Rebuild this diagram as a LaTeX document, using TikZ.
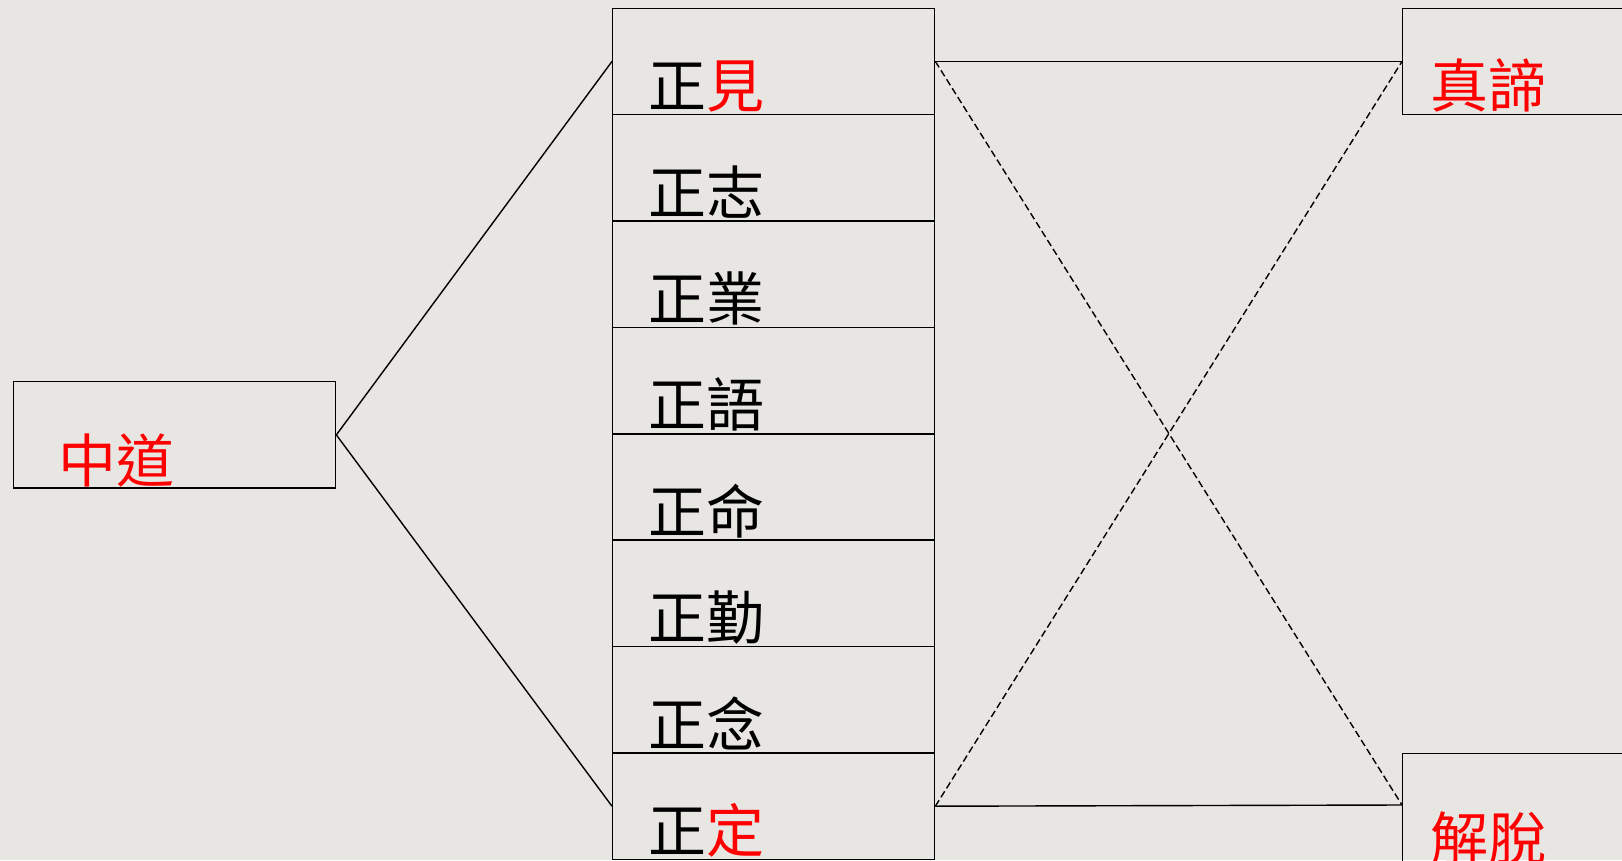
\documentclass[tikz,border=0pt]{standalone}
\usepackage{fontspec}
\newfontfamily\cjk{Noto Sans CJK TC}
\usetikzlibrary{positioning}
\definecolor{paper}{RGB}{232,230,226}
\definecolor{hired}{RGB}{255,0,0}

\begin{document}
\begin{tikzpicture}[x=0.02cm, y=-0.02cm,
    box/.style={draw, line width=0.8pt, minimum width=6.44cm, minimum height=2.128cm, inner sep=0pt, anchor=north west},
    lbl/.style={inner sep=0pt, font=\cjk\fontsize{33}{33}\selectfont},
    link/.style={line width=0.8pt}]
    % page
    \clip (0,0) rectangle (1622,860);
    \fill[paper] (0,0) rectangle (1622,860);

    % middle way
    \node[box] (zd) at (13,381) {};
    \node[lbl, above right=0.12cm and 0.9cm of zd.south west, anchor=base west] (tzd) {\textcolor{hired}{中道}};

    % eightfold path
    \foreach \t [count=\i] in {{正\textcolor{hired}{見}}, 正志, 正業, 正語, 正命, 正勤, 正念, {正\textcolor{hired}{定}}} {
        \node[box] (m\i) at (612,{7.5+(\i-1)*106.4}) {};
        \node[lbl, above right=0.15cm and 0.72cm of m\i.south west, anchor=base west] (t\i) {\t};
    }

    % truth and liberation
    \node[box] (r1) at (1402,7.5) {};
    \node[lbl, above right=0.15cm and 0.56cm of r1.south west, anchor=base west] (tr1) {\textcolor{hired}{真諦}};
    \node[box, minimum height=2.6cm] (r2) at (1402,753) {};
    \coordinate[below=1.04cm of r2.north west] (r2in);
    \node[lbl, below right=1.16cm and 0.56cm of r2.north west, anchor=north west] (tr2) {\textcolor{hired}{解脫}};

    % links
    \draw[link] (zd.east) -- (m1.west);
    \draw[link] (zd.east) -- (m8.west);
    \draw[link] (m1.east) -- (r1.west);
    \draw[link] (m8.east) -- (r2in);
    \draw[link, dash pattern=on 4pt off 2pt] (m1.east) -- (r2in);
    \draw[link, dash pattern=on 4pt off 2pt] (m8.east) -- (r1.west);
\end{tikzpicture}
\end{document}
